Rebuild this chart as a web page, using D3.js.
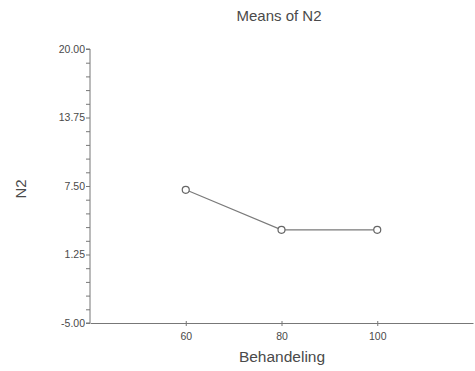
<!DOCTYPE html>
<html>
<head>
<meta charset="utf-8">
<script src="https://cdn.jsdelivr.net/npm/d3@7"></script>
<style>
  html, body { margin: 0; padding: 0; background: #fff; }
  svg { display: block; }
  text { font-family: "Liberation Sans", Arial, sans-serif; fill: #4a4a4a; }
</style>
</head>
<body>
<svg id="chart" width="475" height="371"></svg>
<script>
// Treatment levels and mean N2 per level
const treatments = [60, 80, 100];
const meanN2 = [7.15, 3.5, 3.5];
const yTickValues = [-5.00, 1.25, 7.50, 13.75, 20.00];
const xTickValues = [60, 80, 100];

const svg = d3.select("#chart");
const plot = { left: 90, right: 473, top: 49, bottom: 323 };

const x = d3.scaleLinear().domain([40, 120]).range([plot.left, plot.right]);
const y = d3.scaleLinear().domain([-5, 20]).range([plot.bottom, plot.top]);

const axisColor = "#777";

// Y axis: labelled majors every 6.25, unlabelled minors every 1.25
const yAxis = svg.append("g")
  .attr("transform", `translate(${plot.left},0)`)
  .call(d3.axisLeft(y)
    .tickValues(d3.range(-5, 20.001, 1.25))
    .tickSize(4)
    .tickFormat(d => yTickValues.some(v => Math.abs(v - d) < 1e-6) ? d.toFixed(2) : ""));
yAxis.select(".domain").attr("stroke", axisColor).attr("d", `M-4,${plot.top}H0V${plot.bottom}H-4`);
yAxis.selectAll(".tick line").attr("stroke", axisColor);
yAxis.selectAll(".tick text").attr("font-size", 10.5).attr("fill", "#4a4a4a").attr("x", -5);

// X axis
const xAxis = svg.append("g")
  .attr("transform", `translate(0,${plot.bottom})`)
  .call(d3.axisBottom(x).tickValues(xTickValues).tickSize(3).tickSizeOuter(0));
xAxis.select(".domain").attr("stroke", axisColor);
xAxis.selectAll(".tick line").attr("stroke", axisColor).attr("y1", -2);
xAxis.selectAll(".tick text").attr("font-size", 10.5).attr("fill", "#4a4a4a").attr("dy", "1.05em");

// Titles
svg.append("text").attr("x", 279).attr("y", 21).attr("text-anchor", "middle")
  .attr("font-size", 15).text("Means of N2");
svg.append("text").attr("x", 282).attr("y", 362).attr("text-anchor", "middle")
  .attr("font-size", 15.5).text("Behandeling");
svg.append("text").attr("transform", "translate(26,189) rotate(-90)")
  .attr("text-anchor", "middle").attr("font-size", 15).text("N2");

// Means line and markers
const pts = treatments.map((t, i) => [t, meanN2[i]]);
svg.append("path").datum(pts)
  .attr("fill", "none").attr("stroke", "#7a7a7a").attr("stroke-width", 1.1)
  .attr("d", d3.line().x(d => x(d[0])).y(d => y(d[1])));
svg.selectAll("circle.m").data(pts).enter().append("circle")
  .attr("class", "m")
  .attr("cx", d => x(d[0])).attr("cy", d => y(d[1])).attr("r", 3.5)
  .attr("fill", "#fff").attr("stroke", "#666").attr("stroke-width", 1.2);
</script>
</body>
</html>
